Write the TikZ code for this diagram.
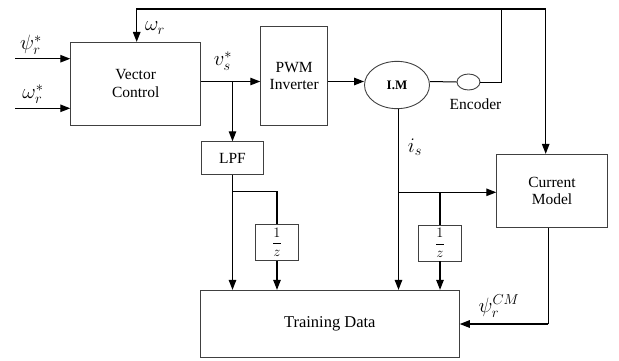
\documentclass[tikz,border=0pt]{standalone}
\usepackage{fontspec}
\setmainfont{Liberation Serif}
\usetikzlibrary{arrows.meta,shapes.geometric,calc}
\begin{document}
\begin{tikzpicture}[x=1pt,y=-1pt,
  box/.style={draw=black!75,line width=0.9pt,rectangle,align=center,inner sep=0pt,
    font=\fontsize{15.5}{17.5}\selectfont},
  conn/.style={line width=1.3pt,black},
  arr/.style={conn,-{Triangle[length=10pt,width=7.5pt]}},
  lbl/.style={font=\fontsize{22}{24}\selectfont,inner sep=0pt},
  txt/.style={font=\fontsize{15.5}{17.5}\selectfont,inner sep=0pt}]
\useasboundingbox (0,0) rectangle (619,360);
% blocks
\node[box,minimum width=130pt,minimum height=82.7pt] (vc) at (135.7,83.7) {Vector\\Control};
\node[box,minimum width=67pt,minimum height=99.4pt] (pwm) at (294.2,76) {PWM\\Inverter};
\node[box,minimum width=61.6pt,minimum height=32.6pt] (lpf) at (232.5,158) {LPF};
\node[box,ellipse,minimum width=65pt,minimum height=47.3pt] (im) at (397,85) {\fontsize{13}{15}\selectfont\bfseries I.M};
\node[draw=black!75,line width=0.9pt,ellipse,minimum width=23pt,minimum height=16pt,inner sep=0pt] (enc) at (468.5,82) {};
\node[txt] (enclbl) at (475.5,104) {Encoder};
\node[box,minimum width=110.6pt,minimum height=73pt] (cm) at (552,190.8) {Current\\Model};
\node[box,minimum width=42.6pt,minimum height=36.4pt] (z1) at (277,242.5) {\fontsize{14}{16}\selectfont$\displaystyle\frac{1}{z}$};
\node[box,minimum width=43.4pt,minimum height=36pt] (z2) at (440,243) {\fontsize{14}{16}\selectfont$\displaystyle\frac{1}{z}$};
\node[box,minimum width=259pt,minimum height=67pt] (td) at (329.8,323.8) {\fontsize{16.5}{18}\selectfont Training Data};
% coordinates
\coordinate (inpsi) at (15,58.7);
\coordinate (inom) at (15,108.3);
\coordinate (vsrow) at (0,81.5);
\coordinate (vsj) at (232.5,81.5);
\coordinate (topj) at (501.7,9);
\coordinate (lpfj) at (232.5,191.7);
\coordinate (imx) at (398.5,0);
\coordinate (isj) at (398.5,192.3);
\coordinate (isz) at (440,192.3);
\coordinate (cmx) at (545.7,0);
\coordinate (cmout) at (548.3,324);
% connectors
\draw[arr] (inpsi) -- (inpsi -| vc.west);
\draw[arr] (inom) -- (inom -| vc.west);
\draw[arr] (vc.east |- vsrow) -- (pwm.west |- vsrow);
\draw[arr] (vsj) -- (lpf.north);
\draw[arr] (pwm.east |- vsrow) -- (im.west |- vsrow);
\draw[line width=1pt] (im.east |- vsrow) -- (enc.west);
\draw[line width=1pt] (enc.east) -| (topj);
\draw[arr] (topj) -| ($(vc.north)+(1,0)$);
\draw[arr] (topj) -| (cmx |- cm.north);
\draw[arr] (lpf.south) -- (lpf.south |- td.north);
\draw[conn] (lpfj) -| (z1.north);
\draw[arr] (z1.south) -- (z1.south |- td.north);
\draw[arr] (imx |- im.south) -- (imx |- td.north);
\draw[arr] (isj) -- (isj -| cm.west);
\draw[conn] (isz) -- (z2.north);
\draw[arr] (z2.south) -- (z2.south |- td.north);
\draw[conn] (cmout |- cm.south) -- (cmout);
\draw[arr] (cmout) -- (cmout -| td.east);
% labels
\node[lbl] (lpsi) at (31,45) {$\psi_r^*$};
\node[lbl] (lom) at (33,94) {$\omega_r^*$};
\node[lbl] (lomr) at (155,28) {$\omega_r$};
\node[lbl] (lvs) at (223,61) {$v_s^*$};
\node[lbl] (lis) at (415,147) {$i_s$};
\node[lbl] (lcm) at (499,306) {$\psi_r^{CM}$};
\end{tikzpicture}
\end{document}
